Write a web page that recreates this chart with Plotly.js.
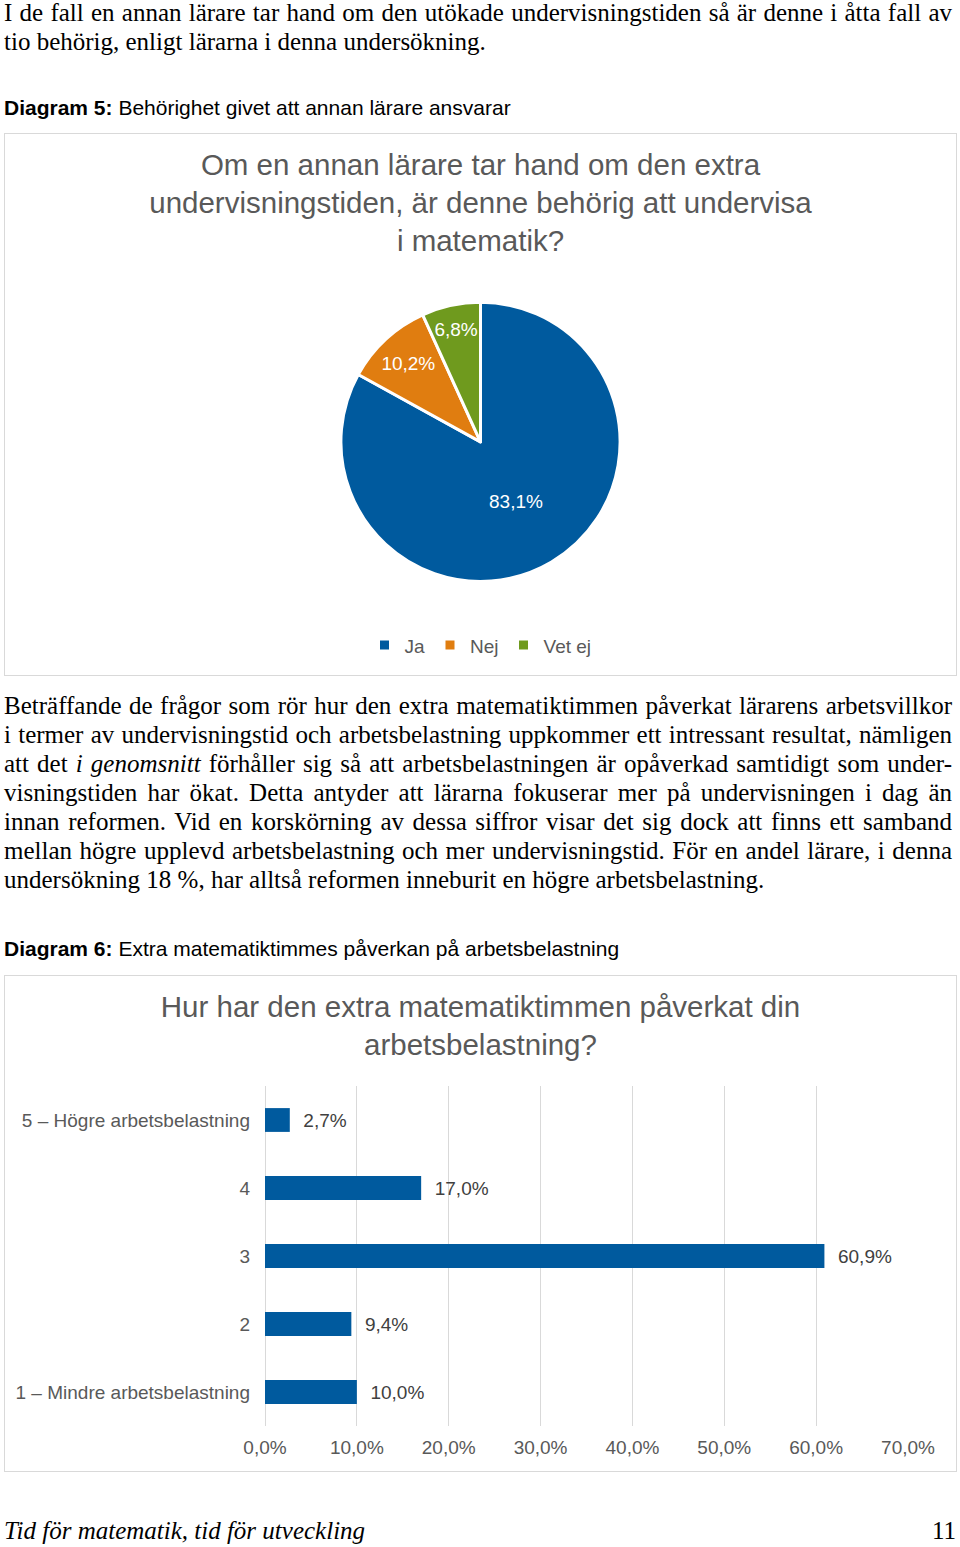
<!DOCTYPE html>
<html>
<head>
<meta charset="utf-8">
<script src="https://cdn.plot.ly/plotly-3.0.1.min.js"></script>
<style>
  body { margin: 0; background: #fff; }
  #page { position: relative; width: 960px; height: 1547px; overflow: hidden; }
  .serif { font-family: "Liberation Serif", "DejaVu Serif", serif; font-size: 25px; color: #000; }
  .para { position: absolute; left: 4px; width: 948px; line-height: 29px; }
  .para div { white-space: nowrap; }
  .para div.j { text-align: justify; text-align-last: justify; white-space: normal; }
  .cap { position: absolute; left: 4px; font-family: "Liberation Sans", Arial, sans-serif; font-size: 21px; line-height: 24px; color: #000; }
  .box { position: absolute; left: 4px; width: 951px; border: 1px solid #d9d9d9; }
  .foot { position: absolute; top: 1516px; font-family: "Liberation Serif", serif; font-size: 25px; line-height: 30px; }
</style>
</head>
<body>
<div id="page">
  <div class="para serif" style="top:-2px">
    <div class="j">I de fall en annan lärare tar hand om den utökade undervisningstiden så är denne i åtta fall av</div>
    <div>tio behörig, enligt lärarna i denna undersökning.</div>
  </div>

  <div class="cap" style="top:96px"><b>Diagram 5:</b> Behörighet givet att annan lärare ansvarar</div>
  <div class="box" id="pieDiv" style="top:133px; height:541px"></div>

  <div class="para serif" style="top:691px">
    <div class="j">Beträffande de frågor som rör hur den extra matematiktimmen påverkat lärarens arbetsvillkor</div>
    <div class="j">i termer av undervisningstid och arbetsbelastning uppkommer ett intressant resultat, nämligen</div>
    <div class="j">att det <i>i genomsnitt</i> förhåller sig så att arbetsbelastningen är opåverkad samtidigt som under-</div>
    <div class="j">visningstiden har ökat. Detta antyder att lärarna fokuserar mer på undervisningen i dag än</div>
    <div class="j">innan reformen. Vid en korskörning av dessa siffror visar det sig dock att finns ett samband</div>
    <div class="j">mellan högre upplevd arbetsbelastning och mer undervisningstid. För en andel lärare, i denna</div>
    <div>undersökning 18 %, har alltså reformen inneburit en högre arbetsbelastning.</div>
  </div>

  <div class="cap" style="top:937px"><b>Diagram 6:</b> Extra matematiktimmes påverkan på arbetsbelastning</div>
  <div class="box" id="barDiv" style="top:975px; height:495px"></div>

  <div class="foot" style="left:4px"><i>Tid för matematik, tid för utveckling</i></div>
  <div class="foot" style="right:4px">11</div>
</div>

<script>
// Diagram 5 data
const pieLabels = ["Ja", "Nej", "Vet ej"];
const pieValues = [83.1, 10.2, 6.8];
const pieColors = ["#005a9e", "#e07d10", "#6f9a1e"];

// Diagram 6 data (bottom to top)
const barCats = [
  "1 – Mindre arbetsbelastning",
  "2",
  "3",
  "4",
  "5 – Högre arbetsbelastning",
];
const barValues = [10.0, 9.4, 60.9, 17.0, 2.7];
const xTicks = [0, 10, 20, 30, 40, 50, 60, 70];
const xTickText = xTicks.map((v) => v.toFixed(1).replace(".", ",") + "%");

const chartFont = { family: "Liberation Sans, Arial, sans-serif", color: "#595959" };
const cfg = { displayModeBar: false, staticPlot: true };

// Pie chart
let pieTrace = {
  type: "pie",
  labels: pieLabels,
  values: pieValues,
  sort: false,
  direction: "clockwise",
  rotation: 0,
  marker: { colors: pieColors, line: { color: "#ffffff", width: 3 } },
  texttemplate: "%{value:.1f}%",
  textposition: "inside",
  insidetextorientation: "horizontal",
  textfont: { size: 19, color: "#ffffff" },
  domain: { x: [0, 1], y: [0.173, 0.689] },
  hoverinfo: "none",
};

let pieLayout = {
  width: 951,
  height: 541,
  separators: ", ",
  font: chartFont,
  margin: { l: 0, r: 0, t: 0, b: 0 },
  title: {
    text: "Om en annan lärare tar hand om den extra<br>undervisningstiden, är denne behörig att undervisa<br>i matematik?",
    font: { size: 29.5, color: "#595959" },
    x: 0.5,
    xanchor: "center",
    y: 0.925,
    yanchor: "top",
  },
  showlegend: true,
  legend: {
    orientation: "h",
    x: 0.5,
    xanchor: "center",
    y: 0.055,
    yanchor: "middle",
    itemwidth: 30,
    font: { size: 19, color: "#595959" },
  },
  paper_bgcolor: "#ffffff",
};

Plotly.newPlot("pieDiv", [pieTrace], pieLayout, cfg);

// Bar chart
let barTrace = {
  type: "bar",
  orientation: "h",
  y: barCats,
  x: barValues,
  marker: { color: "#005a9e" },
  texttemplate: "\u00a0\u00a0%{x:.1f}%",
  textposition: "outside",
  textfont: { size: 19, color: "#404040" },
  cliponaxis: false,
  hoverinfo: "none",
};

let barLayout = {
  width: 951,
  height: 495,
  separators: ", ",
  font: chartFont,
  margin: { l: 260, r: 48, t: 110, b: 45 },
  bargap: 0.65,
  title: {
    text: "Hur har den extra matematiktimmen påverkat din<br>arbetsbelastning?",
    font: { size: 29.5, color: "#595959" },
    x: 0.5,
    xanchor: "center",
    y: 0.918,
    yanchor: "top",
  },
  xaxis: {
    range: [0, 70],
    tickvals: xTicks,
    ticktext: xTickText,
    showgrid: true,
    gridcolor: "#d9d9d9",
    zeroline: true,
    zerolinecolor: "#d9d9d9",
    zerolinewidth: 1,
    showline: false,
    ticks: "",
    ticklabelstandoff: 8,
    tickfont: { size: 19, color: "#595959" },
  },
  yaxis: {
    type: "category",
    showgrid: false,
    showline: false,
    zeroline: false,
    ticks: "",
    ticklabelstandoff: 14,
    tickfont: { size: 19, color: "#595959" },
  },
  showlegend: false,
  paper_bgcolor: "#ffffff",
  plot_bgcolor: "#ffffff",
};

Plotly.newPlot("barDiv", [barTrace], barLayout, cfg);
</script>
</body>
</html>
